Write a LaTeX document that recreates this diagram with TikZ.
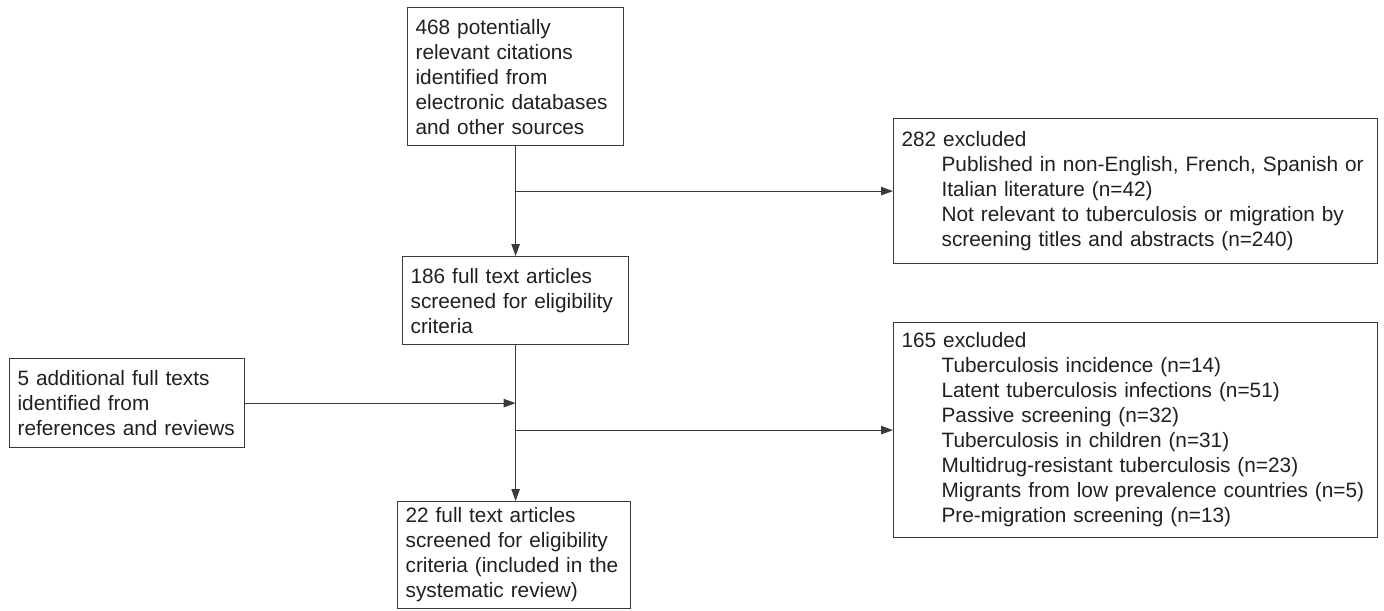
\documentclass[tikz,border=0pt]{standalone}
\usepackage{fontspec}
\setmainfont{Liberation Sans}
\usetikzlibrary{arrows.meta, positioning}
\definecolor{linegray}{HTML}{3A3A3A}
\definecolor{textgray}{HTML}{231F20}
\tikzset{>={Triangle[length=6pt,width=4.2pt]}}
\newcommand{\ind}{\hspace*{20pt}}

\begin{document}
\begin{tikzpicture}[x=0.5pt, y=-0.5pt, line width=0.6pt, draw=linegray,
		box/.style={draw=linegray, anchor=north west, align=left, inner xsep=4pt, inner ysep=2pt,
			text=textgray, font=\fontsize{10.4pt}{12.5pt}\selectfont}]
		\useasboundingbox (0,0) rectangle (1384,610);
		\node[box, text width=100pt, minimum height=69pt] (A) at (407,7) {468 potentially\\relevant citations\\identified from\\electronic databases\\and other sources};
		\node[box, text width=105pt, minimum height=44pt] (B) at (402,256) {186 full text articles\\screened for eligibility\\criteria};
		\node[box, text width=109.5pt, minimum height=44.5pt] (C) at (9,358) {5 additional full texts\\identified from\\references and reviews};
		\node[box, text width=108.5pt, minimum height=53.5pt] (D) at (397,501) {22 full text articles\\screened for eligibility\\criteria (included in the\\systematic review)};
		\node[box, text width=234pt, minimum height=72.5pt] (R1) at (893,118) {282 excluded\\
			\ind Published in non-English, French, Spanish or\\
			\ind Italian literature (n=42)\\
			\ind Not relevant to tuberculosis or migration by\\
			\ind screening titles and abstracts (n=240)};
		\node[box, text width=234pt, minimum height=107.5pt] (R2) at (893,322) {165 excluded\\
			\ind Tuberculosis incidence (n=14)\\
			\ind Latent tuberculosis infections (n=51)\\
			\ind Passive screening (n=32)\\
			\ind Tuberculosis in children (n=31)\\
			\ind Multidrug-resistant tuberculosis (n=23)\\
			\ind Migrants from low prevalence countries (n=5)\\
			\ind Pre-migration screening (n=13)};
		\coordinate (j1) at (A.south |- R1.west);
		\coordinate (j2) at (B.south |- C.east);
		\coordinate (j3) at (B.south |- R2.west);
		\draw[->] (A.south) -- (B.north);
		\draw[->] (j1) -- (R1.west);
		\draw[->] (B.south) -- (B.south |- D.north);
		\draw[->] (C.east) -- (j2);
		\draw[->] (j3) -- (R2.west);
\end{tikzpicture}
\end{document}
